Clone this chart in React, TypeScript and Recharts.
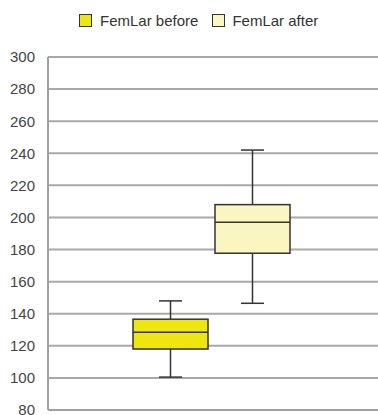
import React from 'react';
import { ComposedChart, Bar, XAxis, YAxis, CartesianGrid, Legend } from 'recharts';

// Data
const categories = ['FemLar'];
const seriesNames = ['FemLar before', 'FemLar after'];
// [min, q1, median, q3, max]
const beforeStats = [100.5, 118, 128.5, 136.6, 148];
const afterStats = [146.5, 177.7, 197, 208, 242];
const yTicks = [80, 100, 120, 140, 160, 180, 200, 220, 240, 260, 280, 300];

const seriesColors = ['#efe60f', '#f9f6c2'];

const data = categories.map((c) => ({
  name: c,
  before: [beforeStats[1], beforeStats[3]],
  after: [afterStats[1], afterStats[3]],
}));

const FONT = '"Liberation Sans", Arial, sans-serif';

function makeShape(stats: number[]) {
  return (props: any) => {
    const { x, y, width, height, fill } = props;
    const [mn, q1, med, q3, mx] = stats;
    const top = Math.min(y, y + height);
    const h = Math.abs(height);
    const ppu = h / (q3 - q1);
    const py = (v: number) => top + (q3 - v) * ppu;
    const cx = x + width / 2;
    const capW = 23;
    const stroke = '#333';
    const sw = 1.5;
    return (
      <g>
        <line x1={cx} x2={cx} y1={py(mx)} y2={top} stroke={stroke} strokeWidth={sw} />
        <line x1={cx} x2={cx} y1={top + h} y2={py(mn)} stroke={stroke} strokeWidth={sw} />
        <line x1={cx - capW / 2} x2={cx + capW / 2} y1={py(mx)} y2={py(mx)} stroke={stroke} strokeWidth={sw} />
        <line x1={cx - capW / 2} x2={cx + capW / 2} y1={py(mn)} y2={py(mn)} stroke={stroke} strokeWidth={sw} />
        <rect x={x} y={top} width={width} height={h} fill={fill} stroke={stroke} strokeWidth={sw} />
        <line x1={x} x2={x + width} y1={py(med)} y2={py(med)} stroke={stroke} strokeWidth={sw} />
      </g>
    );
  };
}

const LegendContent = (props: any) => {
  const payload = [...(props.payload || [])].sort(
    (a: any, b: any) => seriesNames.indexOf(a.value) - seriesNames.indexOf(b.value)
  );
  return (
    <div
      style={{
        height: 57,
        width: 378,
        boxSizing: 'border-box',
        paddingLeft: 79,
        display: 'flex',
        alignItems: 'flex-start',
        fontFamily: FONT,
        fontSize: 15,
        color: '#333',
      }}
    >
      <div style={{ display: 'flex', alignItems: 'center', height: 40 }}>
        {payload.map((p: any, i: number) => (
          <div key={i} style={{ display: 'flex', alignItems: 'center', marginLeft: i === 0 ? 0 : 14 }}>
            <div
              style={{
                width: 13,
                height: 13,
                boxSizing: 'border-box',
                border: '1.5px solid #333',
                background: p.color,
                marginRight: i === 0 ? 8 : 7,
              }}
            />
            <span>{p.value}</span>
          </div>
        ))}
      </div>
    </div>
  );
};

export default function App() {
  return (
    <div style={{ position: 'fixed', left: 0, top: 0, width: 378, height: 415, overflow: 'hidden', background: '#fff' }}>
      <ComposedChart
        width={380}
        height={420}
        data={data}
        margin={{ top: 0, right: 0, bottom: 0, left: 0 }}
        barSize={75}
        barGap={7}
      >
        <Legend
          verticalAlign="top"
          content={<LegendContent />}
          wrapperStyle={{ left: 0, top: 0, width: 378, height: 57 }}
        />
        <CartesianGrid vertical={false} stroke="#a8a8a8" strokeWidth={2} />
        <XAxis
          dataKey="name"
          tick={false}
          tickLine={false}
          axisLine={{ stroke: '#a0a0a0', strokeWidth: 2 }}
          height={10}
          padding={{ left: 0, right: 6 }}
        />
        <YAxis
          type="number"
          domain={[80, 300]}
          ticks={yTicks}
          interval={0}
          width={48}
          tickLine={false}
          tickSize={0}
          tickMargin={13}
          axisLine={{ stroke: '#a0a0a0', strokeWidth: 2 }}
          tick={{ fill: '#444', fontSize: 15, fontFamily: FONT }}
        />
        <Bar
          dataKey="before"
          name={seriesNames[0]}
          fill={seriesColors[0]}
          isAnimationActive={false}
          shape={makeShape(beforeStats)}
        />
        <Bar
          dataKey="after"
          name={seriesNames[1]}
          fill={seriesColors[1]}
          isAnimationActive={false}
          shape={makeShape(afterStats)}
        />
      </ComposedChart>
    </div>
  );
}
